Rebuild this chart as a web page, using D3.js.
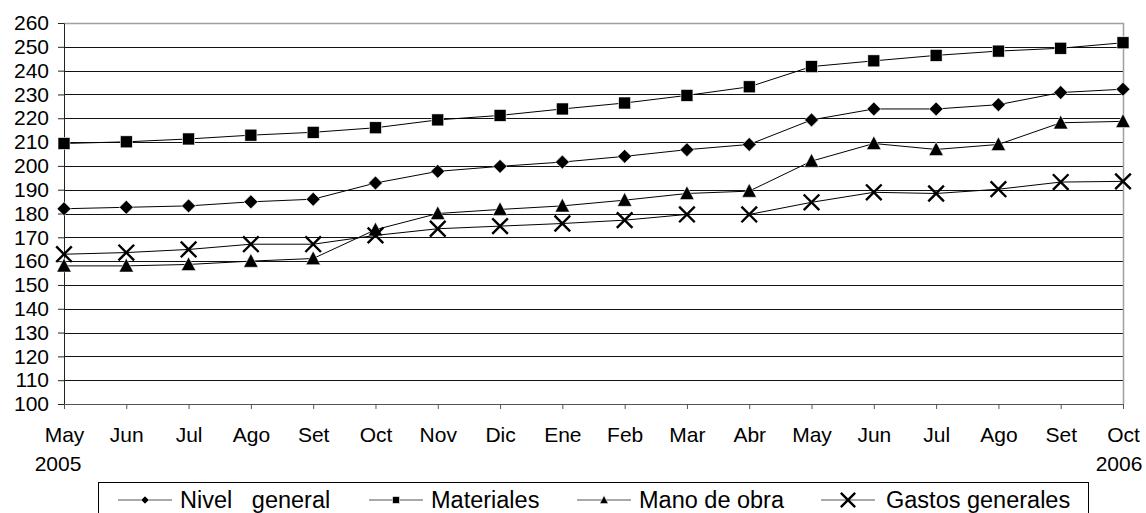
<!DOCTYPE html>
<html>
<head>
<meta charset="utf-8">
<script src="https://cdn.jsdelivr.net/npm/d3@7"></script>
<style>
  body { margin: 0; background: #fff; }
  svg text { font-family: "Liberation Sans", Arial, sans-serif; fill: #000; }
</style>
</head>
<body>
<div id="chart"></div>
<script>
// months along the x axis, and the year shown under the first / last one
const months = ["May", "Jun", "Jul", "Ago", "Set", "Oct", "Nov", "Dic", "Ene",
                "Feb", "Mar", "Abr", "May", "Jun", "Jul", "Ago", "Set", "Oct"];
const yearLabels = ["2005", "2006"];

const yTicks = [100, 110, 120, 130, 140, 150, 160, 170, 180, 190, 200, 210, 220, 230, 240, 250, 260];

// index values
const nivelGeneral = [182.0, 182.6, 183.2, 184.9, 186.0, 192.8, 197.7, 199.8, 201.6,
                      204.0, 206.8, 209.0, 219.3, 223.9, 223.9, 225.7, 230.8, 232.2];
const materiales = [209.4, 210.1, 211.3, 212.9, 214.1, 216.0, 219.3, 221.2, 223.9,
                    226.4, 229.6, 233.2, 241.7, 244.1, 246.4, 248.2, 249.4, 251.7];
const manoDeObra = [158.0, 158.0, 158.6, 160.0, 161.1, 173.2, 180.0, 181.7, 183.2,
                    185.6, 188.4, 189.4, 202.0, 209.4, 206.9, 209.0, 218.1, 218.7];
const gastosGenerales = [162.9, 163.6, 164.9, 167.1, 167.1, 170.8, 173.6, 174.7, 175.8,
                         177.2, 179.6, 179.6, 184.7, 188.9, 188.4, 190.2, 193.2, 193.5];

const seriesNames = ["Nivel   general", "Materiales", "Mano de obra", "Gastos generales"];
const seriesValues = [nivelGeneral, materiales, manoDeObra, gastosGenerales];
const seriesMarkers = ["diamond", "square", "triangle", "cross"];

const WIDTH = 1146, HEIGHT = 513;
const PLOT = {left: 64, right: 1123, top: 23, bottom: 404};
const AXIS_FONT = 21;
const LEGEND_FONT = 23.5;

const svg = d3.select("#chart").append("svg")
    .attr("width", WIDTH)
    .attr("height", HEIGHT);

const X_SCALE = d3.scalePoint()
    .domain(d3.range(months.length))
    .range([PLOT.left, PLOT.right]);

const Y_SCALE = d3.scaleLinear()
    .domain([d3.min(yTicks), d3.max(yTicks)])
    .range([PLOT.bottom, PLOT.top]);

// horizontal gridlines
svg.append("g")
  .selectAll("line")
  .data(yTicks.slice(1, -1))
  .enter().append("line")
    .attr("x1", PLOT.left).attr("x2", PLOT.right)
    .attr("y1", d => Math.round(Y_SCALE(d)) + 0.5)
    .attr("y2", d => Math.round(Y_SCALE(d)) + 0.5)
    .attr("stroke", "#111")
    .attr("stroke-width", 1);

// plot border top + right (grey)
svg.append("path")
    .attr("d", `M${PLOT.left},${PLOT.top + 0.5}H${PLOT.right + 0.5}V${PLOT.bottom}`)
    .attr("fill", "none")
    .attr("stroke", "#a0a0a0")
    .attr("stroke-width", 1.5);

// y axis
const yAxis = svg.append("g")
    .attr("transform", `translate(${PLOT.left},0)`)
    .call(d3.axisLeft(Y_SCALE).tickValues(yTicks).tickSize(6).tickPadding(9).tickSizeOuter(0));
yAxis.selectAll("text").attr("font-size", AXIS_FONT);
yAxis.selectAll("line, path").attr("stroke", "#222");

// x axis
const xAxis = svg.append("g")
    .attr("transform", `translate(0,${PLOT.bottom})`)
    .call(d3.axisBottom(X_SCALE).tickFormat(i => months[i]).tickSize(5).tickPadding(18).tickSizeOuter(0));
xAxis.selectAll("text").attr("font-size", AXIS_FONT);
xAxis.selectAll("line, path").attr("stroke", "#555");

// year under first and last month
svg.append("text")
    .attr("x", X_SCALE(0) - 6).attr("y", 471)
    .attr("text-anchor", "middle").attr("font-size", AXIS_FONT)
    .text(yearLabels[0]);
svg.append("text")
    .attr("x", X_SCALE(months.length - 1) - 4).attr("y", 471)
    .attr("text-anchor", "middle").attr("font-size", AXIS_FONT)
    .text(yearLabels[1]);

// marker shapes
function drawMarker(g, type, size) {
  if (type === "diamond") {
    const h = size * 0.58;
    g.append("path").attr("d", `M0,${-h}L${h},0L0,${h}L${-h},0Z`)
      .attr("fill", "#000").attr("stroke", "#fff").attr("stroke-width", 0.6);
  } else if (type === "square") {
    const h = size / 2;
    g.append("rect").attr("x", -h).attr("y", -h).attr("width", size).attr("height", size)
      .attr("fill", "#000").attr("stroke", "#fff").attr("stroke-width", 0.6);
  } else if (type === "triangle") {
    const h = size * 0.6;
    g.append("path").attr("d", `M0,${-h * 1.05}L${h},${h * 0.85}L${-h},${h * 0.85}Z`)
      .attr("fill", "#000").attr("stroke", "#fff").attr("stroke-width", 0.5);
  } else {
    const h = size * 0.65;
    g.append("path").attr("d", `M${-h},${-h}L${h},${h}M${h},${-h}L${-h},${h}`)
      .attr("fill", "none").attr("stroke", "#000").attr("stroke-width", size > 10 ? 2.4 : 1.6);
  }
}

const line = d3.line()
    .x((d, i) => X_SCALE(i))
    .y(d => Y_SCALE(d));

seriesValues.forEach((vals, s) => {
  const g = svg.append("g");
  g.append("path")
    .datum(vals)
    .attr("d", line)
    .attr("fill", "none")
    .attr("stroke", "#000")
    .attr("stroke-width", 1);
  g.selectAll(".pt")
    .data(vals)
    .enter().append("g")
      .attr("transform", (d, i) => `translate(${X_SCALE(i)},${Y_SCALE(d)})`)
      .each(function () { drawMarker(d3.select(this), seriesMarkers[s], 12); });
});

// legend
const legend = svg.append("g");
legend.append("rect")
    .attr("x", 98.5).attr("y", 482.5)
    .attr("width", 990).attr("height", 60)
    .attr("fill", "#fff").attr("stroke", "#000").attr("stroke-width", 1);

const legendX = [118, 369, 577, 821];
const legendTextGap = [62, 62, 62, 65];
const LEG_Y = 500;
seriesNames.forEach((name, s) => {
  const item = legend.append("g").attr("transform", `translate(${legendX[s]},${LEG_Y})`);
  item.append("line").attr("x1", 0).attr("x2", 54).attr("y1", 0).attr("y2", 0)
    .attr("stroke", "#555").attr("stroke-width", 1);
  const m = item.append("g").attr("transform", "translate(27,0)");
  drawMarker(m, seriesMarkers[s], seriesMarkers[s] === "cross" ? 11 : 7);
  item.append("text")
    .attr("x", legendTextGap[s]).attr("y", 7.5)
    .attr("font-size", LEGEND_FONT)
    .attr("xml:space", "preserve")
    .style("white-space", "pre")
    .text(name);
});
</script>
</body>
</html>
